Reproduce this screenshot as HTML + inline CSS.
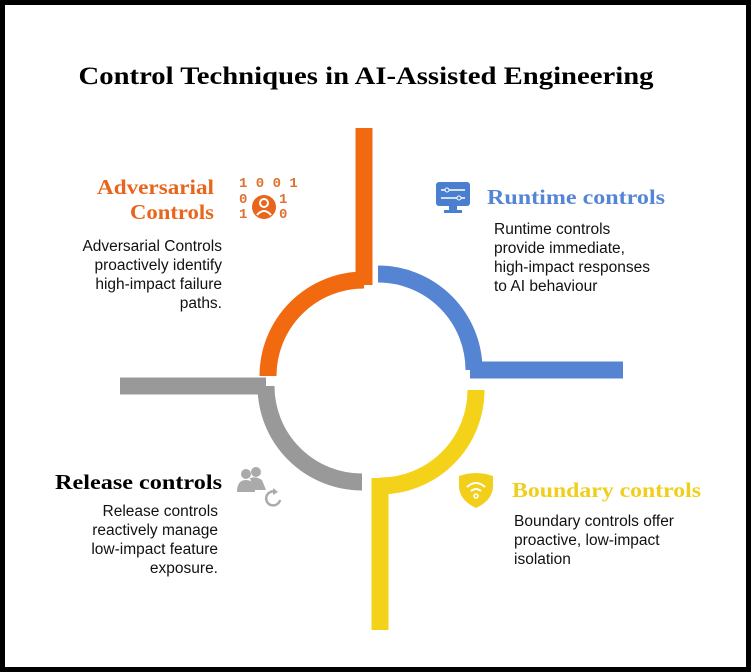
<!DOCTYPE html>
<html><head><meta charset="utf-8"><style>
html,body{margin:0;padding:0;background:#fff;}
svg{display:block;}
.t{font-family:"Liberation Sans",sans-serif;font-size:15.5px;fill:#111;}
.h{font-family:"Liberation Serif",serif;font-weight:bold;}
</style></head><body>
<svg width="751" height="672" viewBox="0 0 751 672" xmlns="http://www.w3.org/2000/svg">
<rect x="2.5" y="2.5" width="746" height="667" fill="#fff" stroke="#000" stroke-width="5"/>
<text x="366" y="84" text-anchor="middle" class="h" font-size="25" fill="#000" textLength="575" lengthAdjust="spacingAndGlyphs">Control Techniques in AI-Assisted Engineering</text>

<g fill="none" stroke-width="17" stroke-linecap="butt">
<path d="M268 376 A96 96 0 0 1 364 280" stroke="#f26a10"/>
<line x1="364" y1="128" x2="364" y2="285" stroke="#f26a10"/>
<path d="M378 274 A96 96 0 0 1 474 370" stroke="#5584d3"/>
<line x1="470" y1="370" x2="623" y2="370" stroke="#5584d3"/>
<path d="M476 390 A96 96 0 0 1 380 486" stroke="#f4d21a"/>
<line x1="380" y1="478" x2="380" y2="630" stroke="#f4d21a"/>
<path d="M362 482 A96 96 0 0 1 266 386" stroke="#999"/>
<line x1="120" y1="386" x2="266" y2="386" stroke="#999"/>
</g>

<!-- Adversarial -->
<text x="214" y="194" text-anchor="end" class="h" font-size="21" fill="#e8651b" textLength="117" lengthAdjust="spacingAndGlyphs">Adversarial</text>
<text x="214" y="219" text-anchor="end" class="h" font-size="21" fill="#e8651b" textLength="84" lengthAdjust="spacingAndGlyphs">Controls</text>
<g class="t" text-anchor="end">
<text x="222" y="251">Adversarial Controls</text>
<text x="222" y="270">proactively identify</text>
<text x="222" y="289">high-impact failure</text>
<text x="222" y="308">paths.</text>
</g>
<g font-family="Liberation Mono,monospace" font-weight="bold" font-size="14" fill="#e07030">
<text x="239" y="187">1 0 0 1</text>
<text x="239" y="203">0</text><text x="279" y="203">1</text>
<text x="239" y="218">1</text><text x="279" y="218">0</text>
</g>
<circle cx="264" cy="207" r="12" fill="#e8651b"/>
<circle cx="264" cy="203" r="4" fill="none" stroke="#fff" stroke-width="2"/>
<path d="M257 215 q7 -8 14 0" fill="none" stroke="#fff" stroke-width="2"/>

<!-- Runtime -->
<rect x="436" y="182" width="34" height="24" rx="3" fill="#4a7fd0"/>
<rect x="449" y="206" width="8" height="5" fill="#4a7fd0"/>
<rect x="444" y="210" width="18" height="3" fill="#4a7fd0"/>
<line x1="441" y1="190" x2="465" y2="190" stroke="#fff" stroke-width="1.5"/>
<line x1="441" y1="198" x2="465" y2="198" stroke="#fff" stroke-width="1.5"/>
<circle cx="447" cy="190" r="2" fill="#4a7fd0" stroke="#fff"/>
<circle cx="459" cy="198" r="2" fill="#4a7fd0" stroke="#fff"/>
<text x="487" y="204" class="h" font-size="21" fill="#5585d5" textLength="178" lengthAdjust="spacingAndGlyphs">Runtime controls</text>
<g class="t">
<text x="494" y="234">Runtime controls</text>
<text x="494" y="253">provide immediate,</text>
<text x="494" y="272">high-impact responses</text>
<text x="494" y="291">to AI behaviour</text>
</g>

<!-- Release -->
<text x="222" y="489" text-anchor="end" class="h" font-size="21" fill="#000" textLength="167" lengthAdjust="spacingAndGlyphs">Release controls</text>
<g class="t" text-anchor="end">
<text x="218" y="516">Release controls</text>
<text x="218" y="535">reactively manage</text>
<text x="218" y="554">low-impact feature</text>
<text x="218" y="573">exposure.</text>
</g>
<circle cx="246" cy="474" r="5" fill="#aaa"/>
<path d="M237 492 q0 -12 9 -12 q9 0 9 12z" fill="#aaa"/>
<circle cx="256" cy="472" r="5" fill="#aaa"/>
<path d="M250 478 q6 -2 12 2 l4 10 h-12z" fill="#aaa"/>
<path d="M280 500 A7 7 0 1 1 276 492" fill="none" stroke="#aaa" stroke-width="2.5"/>
<path d="M273 488 l5 4 -5 3z" fill="#aaa"/>

<!-- Boundary -->
<path d="M459 476 q17 -6 34 0 v10 q0 14 -17 22 q-17 -8 -17 -22z" fill="#f2cf1a"/>
<path d="M467 487 q9 -8 18 0" fill="none" stroke="#fff" stroke-width="2"/>
<path d="M471 491 q5 -4 10 0" fill="none" stroke="#fff" stroke-width="2"/>
<circle cx="476" cy="496" r="2" fill="none" stroke="#fff" stroke-width="1.5"/>
<text x="512" y="497" class="h" font-size="21" fill="#f0cf1c" textLength="189" lengthAdjust="spacingAndGlyphs">Boundary controls</text>
<g class="t">
<text x="514" y="526">Boundary controls offer</text>
<text x="514" y="545">proactive, low-impact</text>
<text x="514" y="564">isolation</text>
</g>
</svg>
</body></html>
